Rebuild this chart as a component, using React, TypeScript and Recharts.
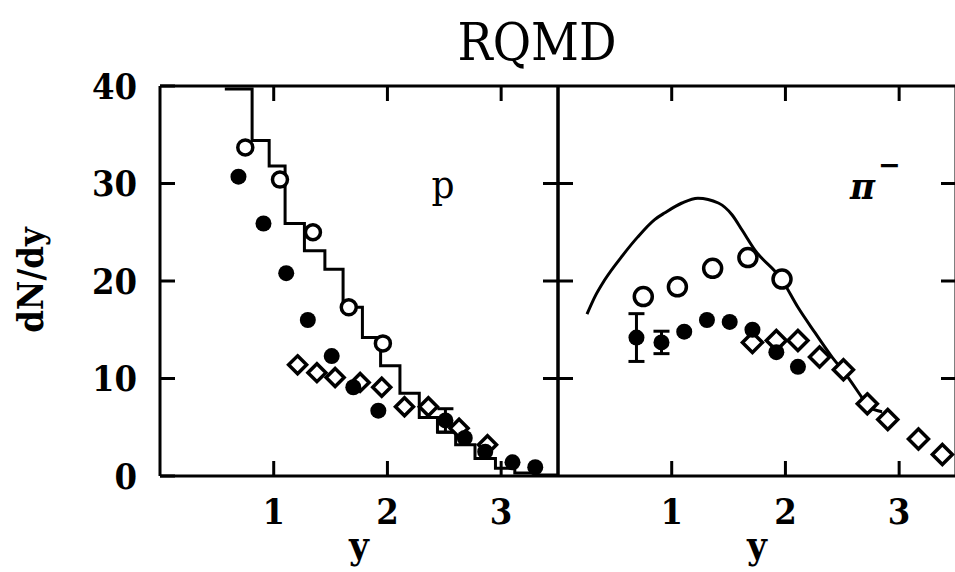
import { ComposedChart, Line, Scatter, XAxis, YAxis, ErrorBar } from "recharts";

// ---- proton panel (left) ----
const protonRqmdX = [0.57, 0.81, 0.96, 1.1, 1.27, 1.45, 1.61, 1.78, 1.94, 2.11, 2.28, 2.44, 2.6, 2.77, 2.95, 3.12, 3.29, 3.5];
const protonRqmdY = [39.7, 34.4, 31.8, 25.9, 23.1, 21.2, 17.3, 14.2, 11.3, 8.5, 6.0, 4.5, 3.2, 1.8, 0.8, 0.3, 0.1, 0.1];

const protonOpenX = [0.75, 1.055, 1.345, 1.66, 1.96];
const protonOpenY = [33.7, 30.4, 25.0, 17.3, 13.6];

const protonFilledX = [0.69, 0.91, 1.11, 1.3, 1.51, 1.7, 1.92, 2.51, 2.68, 2.86, 3.1, 3.3];
const protonFilledY = [30.7, 25.9, 20.8, 16.0, 12.3, 9.1, 6.7, 5.7, 3.9, 2.5, 1.4, 0.9];
const protonFilledErr = [0, 0, 0, 0, 0, 0, 0, 1.2, 0, 0, 0, 0];

const protonDiamondX = [1.21, 1.38, 1.54, 1.76, 1.95, 2.15, 2.36, 2.63, 2.88];
const protonDiamondY = [11.4, 10.6, 10.1, 9.6, 9.1, 7.1, 7.1, 4.9, 3.2];

// ---- pi- panel (right) ----
const pionRqmdX = [0.255, 0.325, 0.41, 0.56, 0.7, 0.85, 0.94, 1.09, 1.23, 1.41, 1.53, 1.62, 1.73, 1.97, 2.11, 2.26, 2.41, 2.52, 2.67, 2.73, 2.85];
const pionRqmdY = [16.6, 18.4, 20.1, 22.5, 24.5, 26.3, 27.0, 28.0, 28.5, 28.0, 26.8, 25.2, 23.2, 20.1, 17.3, 14.7, 12.2, 10.6, 8.1, 7.1, 6.6];

const pionOpenX = [0.75, 1.05, 1.36, 1.67, 1.97];
const pionOpenY = [18.4, 19.4, 21.3, 22.4, 20.2];

const pionFilledX = [0.69, 0.91, 1.11, 1.31, 1.51, 1.71, 1.92, 2.11];
const pionFilledY = [14.2, 13.7, 14.8, 16.0, 15.8, 15.0, 12.7, 11.2];
const pionFilledErr = [2.45, 1.15, 0, 0, 0, 0, 0, 0];

const pionDiamondX = [1.71, 1.92, 2.11, 2.3, 2.51, 2.72, 2.9, 3.17, 3.38];
const pionDiamondY = [13.7, 13.9, 13.9, 12.2, 10.9, 7.4, 5.8, 3.8, 2.2];

const xTicks = [1, 2, 3];
const yTicks = [0, 10, 20, 30, 40];
const yInnerTicks = [10, 20, 30];

const pts = (xs: number[], ys: number[], errs?: number[]) =>
  xs.map((x, i) => ({ x, y: ys[i], err: errs ? errs[i] : 0 }));

const FONT = "'DejaVu Serif Condensed', 'DejaVu Serif', serif";
const INK = "#000";
const tickFont = { fontSize: 36, fontWeight: 700, fontFamily: FONT, fill: INK };
const frame = { stroke: INK, strokeWidth: 3 };
const blank = () => "";

const openCircle = (r: number) => (p: any) => (
  <circle cx={p.cx} cy={p.cy} r={r} fill="#fff" stroke={INK} strokeWidth={3.5} />
);
const filledCircle = (r: number) => (p: any) => <circle cx={p.cx} cy={p.cy} r={r} fill={INK} />;
const diamond = (h: number) => (p: any) => (
  <polygon
    points={`${p.cx},${p.cy - h} ${p.cx + h},${p.cy} ${p.cx},${p.cy + h} ${p.cx - h},${p.cy}`}
    fill="#fff"
    stroke={INK}
    strokeWidth={3.5}
  />
);

// frame axes: ticks point inward (negative tickSize), every axis gets a series
function axes(leftWidth: number, showYLabels: boolean) {
  return [
    <XAxis
      key="xb"
      xAxisId="b"
      dataKey="x"
      type="number"
      domain={[0, 3.5]}
      ticks={xTicks}
      interval={0}
      allowDataOverflow
      height={96}
      tickSize={-15}
      tickMargin={37}
      tick={tickFont}
      tickLine={frame}
      axisLine={frame}
      label={{ value: "y", position: "insideBottom", offset: 14, style: { ...tickFont, fontSize: 38 } }}
    />,
    <XAxis
      key="xt"
      xAxisId="t"
      dataKey="x"
      orientation="top"
      type="number"
      domain={[0, 3.5]}
      ticks={xTicks}
      interval={0}
      allowDataOverflow
      height={10}
      tickSize={-15}
      tickFormatter={blank}
      tickLine={frame}
      axisLine={frame}
    />,
    <YAxis
      key="yl"
      yAxisId="l"
      dataKey="y"
      type="number"
      domain={[0, 40]}
      ticks={showYLabels ? yTicks : yInnerTicks}
      interval={0}
      allowDataOverflow
      width={leftWidth}
      tickSize={-15}
      tickMargin={38}
      tick={tickFont}
      tickFormatter={showYLabels ? undefined : blank}
      tickLine={frame}
      axisLine={frame}
    />,
    <YAxis
      key="yr"
      yAxisId="r"
      dataKey="y"
      orientation="right"
      type="number"
      domain={[0, 40]}
      ticks={yInnerTicks}
      interval={0}
      allowDataOverflow
      width={10}
      tickSize={-15}
      tickFormatter={blank}
      tickLine={frame}
      axisLine={frame}
    />,
  ];
}

export default function App() {
  return (
    <div
      style={{
        position: "absolute",
        left: 0,
        top: 0,
        width: 955,
        height: 572,
        overflow: "hidden",
        background: "#fff",
      }}
    >
      <div style={{ position: "absolute", left: 0, top: 0 }}>
        <ComposedChart width={568} height={572} margin={{ top: 76, right: 0, bottom: 0, left: 0 }}>
          {axes(160, true)}
          <Line
            xAxisId="t"
            yAxisId="r"
            data={pts(protonRqmdX, protonRqmdY)}
            dataKey="y"
            stroke="none"
            dot={false}
            isAnimationActive={false}
          />
          <Line
            xAxisId="b"
            yAxisId="l"
            data={pts(protonRqmdX, protonRqmdY)}
            dataKey="y"
            type="stepAfter"
            stroke={INK}
            strokeWidth={3}
            dot={false}
            isAnimationActive={false}
          />
          <Scatter xAxisId="b" yAxisId="l" data={pts(protonDiamondX, protonDiamondY)} shape={diamond(9)} isAnimationActive={false} />
          <Scatter xAxisId="b" yAxisId="l" data={pts(protonOpenX, protonOpenY)} shape={openCircle(7.5)} isAnimationActive={false} />
          <Scatter
            xAxisId="b"
            yAxisId="l"
            data={pts(protonFilledX, protonFilledY, protonFilledErr)}
            shape={filledCircle(8)}
            isAnimationActive={false}
          >
            <ErrorBar dataKey="err" direction="y" width={8} stroke={INK} strokeWidth={3} />
          </Scatter>
        </ComposedChart>
      </div>
      <div style={{ position: "absolute", left: 548, top: 0 }}>
        <ComposedChart width={418} height={572} margin={{ top: 76, right: 0, bottom: 0, left: 0 }}>
          {axes(10, false)}
          <Line
            xAxisId="t"
            yAxisId="r"
            data={pts(pionRqmdX, pionRqmdY)}
            dataKey="y"
            stroke="none"
            dot={false}
            isAnimationActive={false}
          />
          <Line
            xAxisId="b"
            yAxisId="l"
            data={pts(pionRqmdX, pionRqmdY)}
            dataKey="y"
            type="monotone"
            stroke={INK}
            strokeWidth={3}
            dot={false}
            isAnimationActive={false}
          />
          <Scatter xAxisId="b" yAxisId="l" data={pts(pionDiamondX, pionDiamondY)} shape={diamond(10)} isAnimationActive={false} />
          <Scatter xAxisId="b" yAxisId="l" data={pts(pionOpenX, pionOpenY)} shape={openCircle(9)} isAnimationActive={false} />
          <Scatter
            xAxisId="b"
            yAxisId="l"
            data={pts(pionFilledX, pionFilledY, pionFilledErr)}
            shape={filledCircle(8)}
            isAnimationActive={false}
          >
            <ErrorBar dataKey="err" direction="y" width={8} stroke={INK} strokeWidth={3} />
          </Scatter>
        </ComposedChart>
      </div>
      <svg
        width={955}
        height={572}
        style={{ position: "absolute", left: 0, top: 0, pointerEvents: "none" }}
      >
        <text x={537} y={60} textAnchor="middle" fontFamily={FONT} fontSize={52} fill={INK}>
          RQMD
        </text>
        <text
          x={0}
          y={0}
          transform="translate(43,280) rotate(-90)"
          textAnchor="middle"
          fontFamily={FONT}
          fontWeight={700}
          fontSize={36}
          fill={INK}
        >
          dN/dy
        </text>
        <text x={443} y={198} textAnchor="middle" fontFamily={FONT} fontSize={40} fill={INK}>
          p
        </text>
        <text x={850} y={199} fontFamily={FONT} fontWeight={700} fontStyle="italic" fontSize={38} fill={INK}>
          π
          <tspan dx={3} dy={-24} fontSize={30} fontStyle="normal">
            −
          </tspan>
        </text>
      </svg>
    </div>
  );
}
